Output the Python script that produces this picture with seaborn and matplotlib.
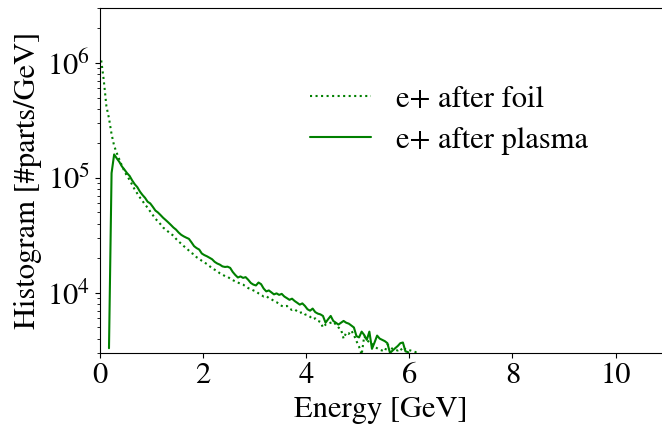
import matplotlib
matplotlib.use("Agg")
import numpy as np
import pandas as pd
import matplotlib.pyplot as plt
import seaborn as sns

# ---- data ----
foil_energy = [
    0.025, 0.075, 0.125, 0.175, 0.225, 0.275, 0.325, 0.375, 0.425, 0.475,
    0.525, 0.575, 0.625, 0.675, 0.725, 0.775, 0.825, 0.875, 0.925, 0.975,
    1.025, 1.075, 1.125, 1.175, 1.225, 1.275, 1.325, 1.375, 1.425, 1.475,
    1.525, 1.575, 1.625, 1.675, 1.725, 1.775, 1.825, 1.875, 1.925, 1.975,
    2.025, 2.075, 2.125, 2.175, 2.225, 2.275, 2.325, 2.375, 2.425, 2.475,
    2.525, 2.575, 2.625, 2.675, 2.725, 2.775, 2.825, 2.875, 2.925, 2.975,
    3.025, 3.075, 3.125, 3.175, 3.225, 3.275, 3.325, 3.375, 3.425, 3.475,
    3.525, 3.575, 3.625, 3.675, 3.725, 3.775, 3.825, 3.875, 3.925, 3.975,
    4.025, 4.075, 4.125, 4.175, 4.225, 4.275, 4.325, 4.375, 4.425, 4.475,
    4.525, 4.575, 4.625, 4.675, 4.725, 4.775, 4.825, 4.875, 4.925, 4.975,
    5.025, 5.075, 5.125, 5.175, 5.225, 5.275, 5.325, 5.375, 5.425, 5.475,
    5.525, 5.575, 5.625, 5.675, 5.725, 5.775, 5.825, 5.875, 5.925, 5.975,
    6.025, 6.075, 6.125, 6.175, 6.225,
]
foil_counts = [
    1050000, 700000, 420000, 330000, 240000, 190000, 165000, 145000, 128000, 114000,
    104000, 96000, 87000, 79000, 73000, 67500, 63000, 58500, 55000, 51000,
    47500, 44000, 42000, 39500, 37000, 35500, 34000, 32500, 31500, 29500,
    28000, 26800, 25500, 24500, 23300, 22200, 21600, 20400, 19800, 19000,
    18400, 17800, 17100, 16300, 15900, 15400, 14800, 14400, 14000, 13800,
    13300, 12900, 12600, 12300, 12000, 11800, 11400, 11000, 10800, 10500,
    10300, 9900, 9600, 9300, 9400, 9000, 8800, 8500, 8300, 8000,
    7700, 7600, 7700, 7300, 7100, 7200, 6900, 6700, 6800, 6500,
    6400, 6200, 5900, 6000, 5700, 5600, 5000, 5300, 5400, 5500,
    5600, 5300, 5000, 4800, 4000, 4500, 4400, 4700, 4300, 3800,
    3400, 2900, 4200, 3900, 3700, 3600, 3400, 3300, 3200, 3150,
    3100, 3550, 3400, 3250, 3200, 3150, 3300, 3100, 3250, 3200,
    3150, 3100, 3050, 3050, 2800,
]

plasma_energy = [
    0.175, 0.225, 0.275, 0.325, 0.375, 0.425, 0.475,
    0.525, 0.575, 0.625, 0.675, 0.725, 0.775, 0.825, 0.875, 0.925, 0.975,
    1.025, 1.075, 1.125, 1.175, 1.225, 1.275, 1.325, 1.375, 1.425, 1.475,
    1.525, 1.575, 1.625, 1.675, 1.725, 1.775, 1.825, 1.875, 1.925, 1.975,
    2.025, 2.075, 2.125, 2.175, 2.225, 2.275, 2.325, 2.375, 2.425, 2.475,
    2.525, 2.575, 2.625, 2.675, 2.725, 2.775, 2.825, 2.875, 2.925, 2.975,
    3.025, 3.075, 3.125, 3.175, 3.225, 3.275, 3.325, 3.375, 3.425, 3.475,
    3.525, 3.575, 3.625, 3.675, 3.725, 3.775, 3.825, 3.875, 3.925, 3.975,
    4.025, 4.075, 4.125, 4.175, 4.225, 4.275, 4.325, 4.375, 4.425, 4.475,
    4.525, 4.575, 4.625, 4.675, 4.725, 4.775, 4.825, 4.875, 4.925, 4.975,
    5.025, 5.075, 5.125, 5.175, 5.225, 5.275, 5.325, 5.375, 5.425, 5.475,
    5.525, 5.575, 5.625, 5.675, 5.725, 5.775, 5.825, 5.875, 5.925, 5.975,
    6.025,
]
plasma_counts = [
    3300, 110000, 160000, 148000, 138000, 126000, 118000,
    110000, 104000, 95000, 88000, 83000, 76000, 71000, 67000, 62000, 60000,
    56000, 52000, 50000, 47500, 45000, 43000, 41000, 39000, 37000, 35500,
    33500, 32000, 31000, 30200, 29500, 27500, 25500, 24500, 23800, 22000,
    21300, 20800, 20200, 19600, 18600, 18000, 17600, 17000, 16800, 16900,
    16500, 15200, 14300, 13600, 13900, 13500, 13700, 13000, 12200, 11800,
    11600, 12300, 11900, 10900, 10300, 10500, 10100, 9700, 9900, 9600,
    9800, 9300, 9000, 8700, 8900, 8500, 8200, 7900, 8100, 7700,
    7200, 7000, 7300, 6800, 6600, 6500, 6300, 5500, 5900, 6300,
    5700, 5500, 5300, 5500, 5700, 5500, 5400, 5200, 5000, 4200,
    4100, 4600, 4300, 3900, 4600, 3260, 3700, 4250, 4000, 3900,
    3800, 3650, 3000, 3150, 3300, 3450, 3650, 3700, 3100, 3050,
    2500,
]

series_labels = ["e+ after foil", "e+ after plasma"]
x_ticks = [0, 2, 4, 6, 8, 10]
y_ticks = [1e4, 1e5, 1e6]

foil_df = pd.DataFrame({"energy": foil_energy, "counts": foil_counts})
plasma_df = pd.DataFrame({"energy": plasma_energy, "counts": plasma_counts})

# ---- style ----
sns.set_style("ticks")
plt.rcParams["font.family"] = ["STIXGeneral", "DejaVu Serif"]
plt.rcParams["mathtext.fontset"] = "stix"
plt.rcParams["text.color"] = "black"
plt.rcParams["axes.labelcolor"] = "black"
plt.rcParams["xtick.color"] = "black"
plt.rcParams["ytick.color"] = "black"
plt.rcParams["axes.edgecolor"] = "black"

fig = plt.figure(figsize=(6.62, 4.24), dpi=100)
ax = fig.add_axes([0.151, 0.1675, 0.849, 0.8135])

green = "#008000"
sns.lineplot(data=foil_df, x="energy", y="counts", ax=ax, color=green,
             linestyle=":", linewidth=1.5, label=series_labels[0],
             estimator=None, sort=False)
sns.lineplot(data=plasma_df, x="energy", y="counts", ax=ax, color=green,
             linestyle="-", linewidth=1.5, label=series_labels[1],
             estimator=None, sort=False)

ax.set_yscale("log")
ax.set_xlim(0, 10.9)
ax.set_ylim(3e3, 3e6)
ax.set_xticks(x_ticks)
ax.set_yticks(y_ticks)
ax.tick_params(axis="both", which="major", labelsize=22)
ax.set_xlabel("Energy [GeV]", fontsize=22)
ax.set_ylabel("Histogram [#parts/GeV]", fontsize=22)
ax.spines["right"].set_visible(False)
ax.spines["top"].set_visible(True)

ax.legend(frameon=False, fontsize=22, loc="upper left",
          bbox_to_anchor=(0.325, 0.855), labelspacing=0.4)

fig.savefig("out.png", dpi=100)
